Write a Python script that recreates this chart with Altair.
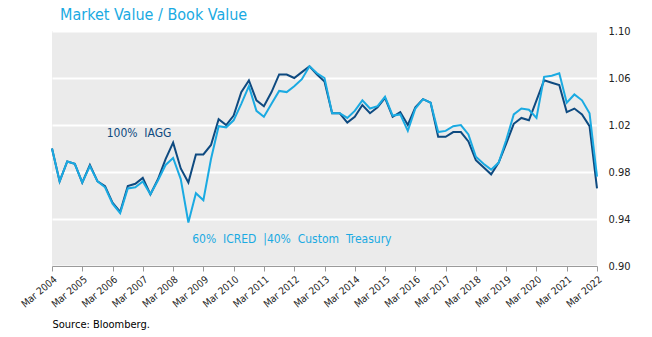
import altair as alt
import pandas as pd

# Quarter-end observations, Mar 2004 .. Mar 2022
quarters = pd.date_range("2004-03-01", "2022-03-01", freq="3MS")

iagg = [1.000, 0.972, 0.989, 0.987, 0.971, 0.986, 0.972, 0.968, 0.954, 0.946,
        0.968, 0.970, 0.975, 0.961, 0.974, 0.991, 1.005, 0.983, 0.971, 0.995,
        0.995, 1.003, 1.025, 1.020, 1.028, 1.048, 1.058, 1.041, 1.036, 1.048,
        1.063, 1.063, 1.060, 1.065, 1.070, 1.063, 1.057, 1.030, 1.030, 1.022,
        1.027, 1.037, 1.030, 1.035, 1.043, 1.027, 1.031, 1.020, 1.035, 1.042,
        1.039, 1.010, 1.010, 1.014, 1.014, 1.006, 0.990, 0.984, 0.978, 0.988,
        1.004, 1.021, 1.026, 1.024, 1.041, 1.058, 1.056, 1.054, 1.031, 1.034,
        1.029, 1.019, 0.966]

blend = [1.000, 0.972, 0.989, 0.987, 0.971, 0.985, 0.972, 0.967, 0.953, 0.945,
         0.966, 0.967, 0.972, 0.961, 0.973, 0.986, 0.992, 0.974, 0.937, 0.962,
         0.956, 0.991, 1.019, 1.018, 1.024, 1.038, 1.053, 1.032, 1.027, 1.038,
         1.049, 1.048, 1.053, 1.059, 1.070, 1.064, 1.060, 1.030, 1.030, 1.026,
         1.032, 1.041, 1.034, 1.036, 1.044, 1.028, 1.029, 1.015, 1.034, 1.042,
         1.039, 1.014, 1.015, 1.019, 1.020, 1.012, 0.993, 0.987, 0.982, 0.988,
         1.007, 1.029, 1.034, 1.033, 1.026, 1.061, 1.062, 1.064, 1.039, 1.046,
         1.041, 1.030, 0.976]

series_names = ["100% IAGG", "60% ICRED |40% Custom Treasury"]
series_colors = ["#0E4A80", "#1AAAE2"]

label_texts = ["100%\u00a0 IAGG", "60%\u00a0 ICRED\u00a0 |40%\u00a0 Custom\u00a0 Treasury"]
label_dates = ["2007-01-15", "2012-02-01"]
label_values = [1.013, 0.923]

tick_years = list(range(2004, 2023))
y_ticks = [0.90, 0.94, 0.98, 1.02, 1.06, 1.10]

FONT = "DejaVu Sans Condensed"

df = pd.DataFrame({
    "date": list(quarters) * 2,
    "value": iagg + blend,
    "series": [series_names[0]] * len(iagg) + [series_names[1]] * len(blend),
    "order": [0] * len(iagg) + [1] * len(blend),
})

labels = pd.DataFrame({
    "date": pd.to_datetime(label_dates),
    "value": label_values,
    "text": label_texts,
    "series": series_names,
})

x_scale = alt.Scale(domain=[alt.DateTime(year=2004, month=3, date=1),
                            alt.DateTime(year=2022, month=3, date=1)], nice=False)
y_scale = alt.Scale(domain=[0.90, 1.10], nice=False, zero=False)
color_scale = alt.Scale(domain=series_names, range=series_colors)

x_axis = alt.Axis(
    values=[alt.DateTime(year=y, month=3, date=1) for y in tick_years],
    format="%b %Y", labelAngle=-40, labelFontSize=10, labelColor="#222222",
    labelFont=FONT, labelOverlap=False, labelBound=False, labelFlush=False,
    labelSeparation=0,
    grid=False, domainColor="#9A9A9A", tickColor="#9A9A9A",
    tickSize=5, labelPadding=3,
    title="Source: Bloomberg.", titleX=0, titleY=58, titleAlign="left",
    titleBaseline="middle", titleAnchor="start", titleFont=FONT,
    titleFontSize=11, titleFontWeight="normal", titleColor="#000000",
)
y_axis = alt.Axis(
    orient="right", values=y_ticks, format=".2f", labelFontSize=11,
    labelColor="#222222", labelFont=FONT, ticks=False, domain=False,
    grid=True, gridColor="#FFFFFF", gridWidth=2, labelPadding=11, title=None,
)

lines = alt.Chart(df).mark_line(strokeWidth=2).encode(
    x=alt.X("date:T", scale=x_scale, axis=x_axis),
    y=alt.Y("value:Q", scale=y_scale, axis=y_axis),
    color=alt.Color("series:N", scale=color_scale, legend=None),
    detail="series:N",
    order=alt.Order("order:Q"),
)

text = alt.Chart(labels).mark_text(font=FONT, fontSize=12, align="center",
                                   baseline="middle").encode(
    x=alt.X("date:T", scale=x_scale, axis=x_axis),
    y=alt.Y("value:Q", scale=y_scale, axis=y_axis),
    text="text:N",
    color=alt.Color("series:N", scale=color_scale, legend=None),
)

chart = alt.layer(lines, text).properties(
    width=545, height=235,
    autosize=alt.AutoSizeParams(type="none"),
    padding={"left": 52, "top": 31, "right": 55, "bottom": 71},
    title=alt.TitleParams("Market Value / Book Value", anchor="start", dx=8,
                          frame="group", font=FONT, fontSize=16,
                          fontWeight="normal", color="#1AAAE2", offset=2),
).configure_view(fill="#EBEBEB", stroke=None)

chart.save("out.html", embed_options={"renderer": "svg", "actions": False})
